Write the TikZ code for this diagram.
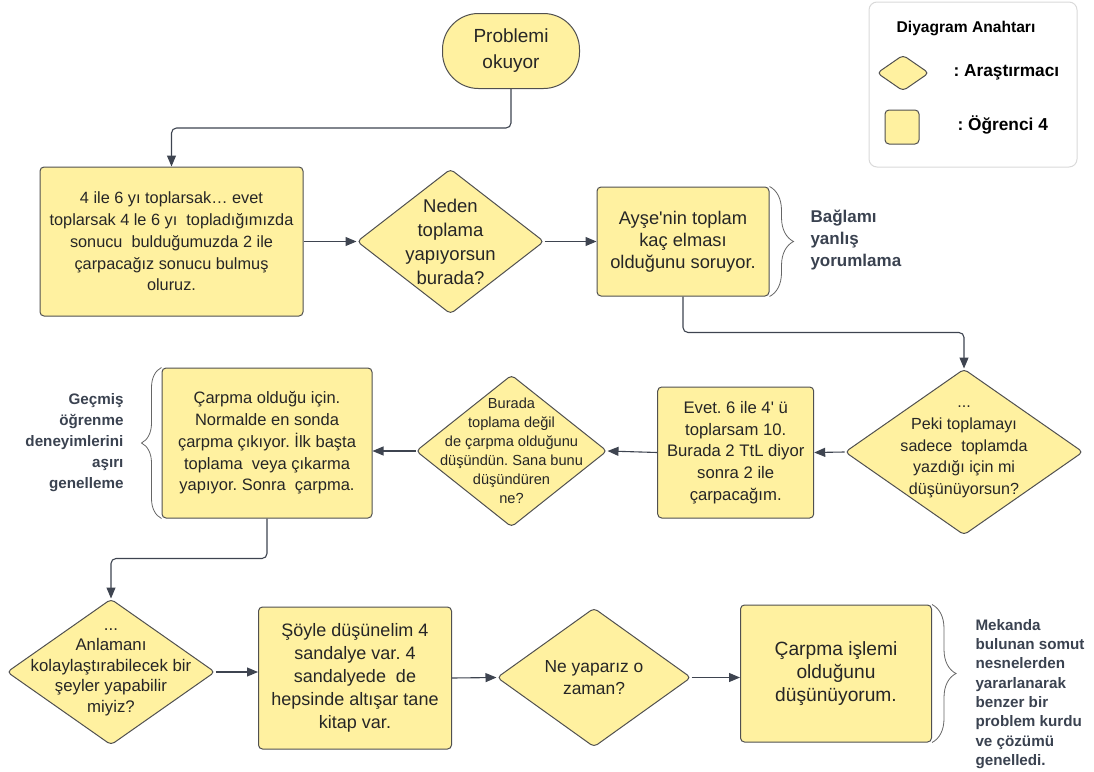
\documentclass[tikz,border=0pt]{standalone}
\usepackage{fontspec}
\setmainfont{Liberation Sans}
\usetikzlibrary{shapes.geometric,arrows.meta,decorations.pathreplacing}
\definecolor{boxyellow}{RGB}{255,241,160}
\definecolor{boxline}{RGB}{80,80,80}
\definecolor{linkgray}{RGB}{62,68,80}
\definecolor{notegray}{RGB}{58,66,80}
\newcommand{\fsz}[2]{\fontsize{#1}{#2}\selectfont}
\frenchspacing
\tikzset{
  student/.style={draw=boxline, fill=boxyellow, line width=1pt, rounded corners=4pt,
    align=center, text=black!85, inner sep=2pt},
  researcher/.style={diamond, draw=boxline, fill=boxyellow, line width=1pt, rounded corners=4pt,
    align=center, text=black!85, inner sep=-40pt},
  link/.style={draw=linkgray, line width=1.1pt, rounded corners=5pt,
    -{Triangle[length=11pt,width=9pt]}},
  bracket/.style={draw=black!60, line width=0.8pt, decorate},
  note/.style={text=notegray, font=\bfseries\fsz{15.2}{21}},
}
\begin{document}
\begin{tikzpicture}[x=1pt,y=-1pt]
 \useasboundingbox (0,0) rectangle (1094,771);
 % legend
 \draw[draw=black!15, line width=1pt, rounded corners=8pt] (869,2) rectangle (1077,167);
 \node[font=\bfseries\fsz{15.6}{19}] (keytitle) at (966,29) {Diyagram Anahtar\i};
 \node[researcher, minimum width=52pt, minimum height=36pt] (keydia) at (903,73) {};
 \node[student, minimum width=34pt, minimum height=34pt] (keybox) at (902,127) {};
 \node[anchor=west, font=\bfseries\fsz{17.3}{20}] (keyres) at (950,72) {: Araştırmacı};
 \node[anchor=west, font=\bfseries\fsz{17.3}{20}] (keystu) at (954,125) {: Öğrenci 4};
 % row 0
 \node[draw=boxline, fill=boxyellow, line width=1pt, rounded corners=36pt, minimum width=137pt,
   minimum height=75pt, align=center, text=black!85, font=\fsz{19}{26}] (start) at (511,51)
   {Problemi\\okuyor};
 % row 1
 \node[student, minimum width=263pt, minimum height=149pt, font=\fsz{16.3}{21.7}] (sum) at (171.5,241.5)
   {4 ile 6 yı toplarsak… evet\\toplarsak 4 le 6 yı\ \ topladığımızda\\sonucu\ \ bulduğumuzda 2 ile\\çarpacağız sonucu bulmuş\\oluruz.};
 \node[researcher, minimum width=187pt, minimum height=145pt, font=\fsz{18.5}{24}] (why) at (450.5,241.5)
   {Neden\\toplama\\yapıyorsun\\burada?};
 \node[student, minimum width=172pt, minimum height=109pt, font=\fsz{18.3}{22}] (apple) at (683,241.5)
   {Ayşe\textquotesingle nin toplam\\kaç elması\\olduğunu soruyor.};
 % row 2
 \node[researcher, minimum width=238pt, minimum height=166pt, font=\fsz{16.1}{21.7}] (peki) at (964,452)
   {...\\Peki toplamayı\\sadece\ \ toplamda\\yazdığı için mi\\düşünüyorsun?};
 \node[student, minimum width=156pt, minimum height=131pt, font=\fsz{16.7}{21.7}] (evet) at (735.7,452.5)
   {Evet. 6 ile 4\textquotesingle\ ü\\toplarsam 10.\\Burada 2 TtL diyor\\sonra 2 ile\\çarpacağım.};
 \node[researcher, minimum width=191pt, minimum height=152pt, font=\fsz{14.6}{19}] (burada) at (511.5,451)
   {Burada\\toplama değil\\de çarpma olduğunu\\düşündün. Sana bunu\\düşündüren\\ne?};
 \node[student, minimum width=210pt, minimum height=150pt, font=\fsz{16.5}{21.7}] (carpma) at (267,443)
   {Çarpma olduğu için.\\Normalde en sonda\\çarpma çıkıyor. İlk başta\\toplama\ \ veya çıkarma\\yapıyor. Sonra\ \ çarpma.};
 % row 3
 \node[researcher, minimum width=208pt, minimum height=146pt, font=\fsz{16.8}{20.5}] (anlama) at (111,672)
   {...\\Anlamanı\\kolaylaştırabilecek bir\\şeyler yapabilir\\miyiz?};
 \node[student, minimum width=193pt, minimum height=142pt, font=\fsz{18}{23}] (sandalye) at (355,678)
   {Şöyle düşünelim 4\\sandalye var. 4\\sandalyede\ \ de\\hepsinde altışar tane\\kitap var.};
 \node[researcher, minimum width=194pt, minimum height=139pt, font=\fsz{17.4}{22}] (zaman) at (594,677.5)
   {Ne yaparız o\\zaman?};
 \node[student, minimum width=191pt, minimum height=137pt, font=\fsz{19.2}{23.3}] (islem) at (836,673.5)
   {Çarpma işlemi\\olduğunu\\düşünüyorum.};
 % connectors
 \draw[link] (start.south) -- ++(0,39) -| (sum.north);
 \draw[link] (sum.east) -- (why.west);
 \draw[link] (why.east) -- (apple.west);
 \draw[link] (apple.south) -- ++(0,36) -| (peki.north);
 \draw[link] (peki.west) -- (evet.east);
 \draw[link] (evet.west) -- (burada.east);
 \draw[link] (burada.west) -- (burada.west -| carpma.east);
 \draw[link] (carpma.south) -- ++(0,40) -| (anlama.north);
 \draw[link] (anlama.east) -- (anlama.east -| sandalye.west);
 \draw[link] (sandalye.east) -- (zaman.west);
 \draw[link] (zaman.east) -- (zaman.east -| islem.west);
 % braces and notes
 \draw[bracket, decoration={brace, amplitude=24pt}] (apple.north east) -- (apple.south east);
 \draw[bracket, decoration={brace, amplitude=20pt}] (carpma.south west) -- (carpma.north west);
 \draw[bracket, decoration={brace, amplitude=24pt}] (islem.north east) -- (islem.south east);
 \node[note, anchor=west, align=left, font=\bfseries\fsz{17}{22}] (baglam) at (807,240)
   {Bağlamı\\yanlış\\yorumlama};
 \node[note, anchor=east, align=right] (gecmis) at (127,443)
   {Geçmiş\\öğrenme\\deneyimlerini\\aşırı\\genelleme};
 \node[note, anchor=west, align=left, font=\bfseries\fsz{15.2}{19.3}] (mekan) at (972,694)
   {Mekanda\\bulunan somut\\nesnelerden\\yararlanarak\\benzer bir\\problem kurdu\\ve çözümü\\genelledi.};
\end{tikzpicture}
\end{document}
